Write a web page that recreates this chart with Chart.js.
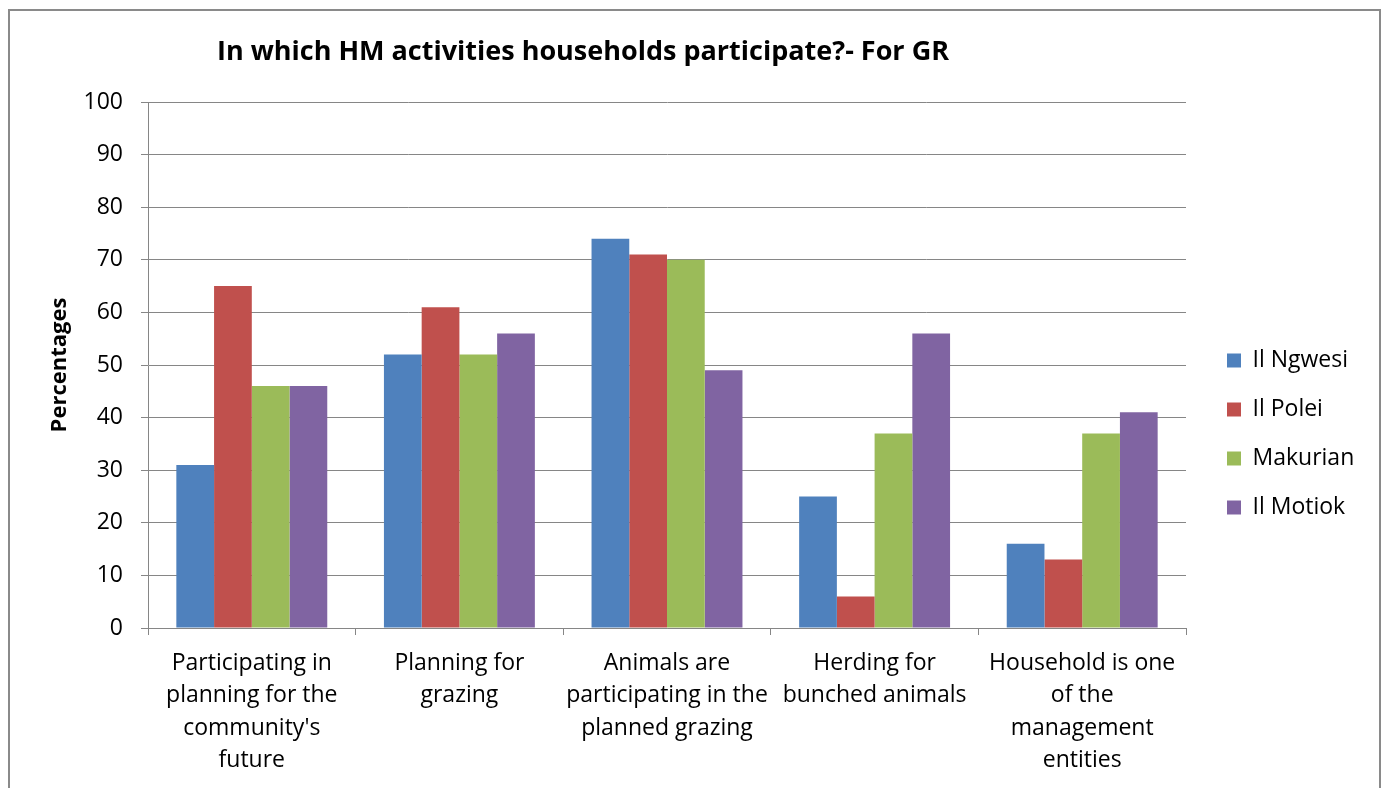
<!DOCTYPE html>
<html><head><meta charset="utf-8">
<script src="https://cdn.jsdelivr.net/npm/chart.js@4.4.0/dist/chart.umd.min.js"></script>
<style>
html,body{margin:0;padding:0;background:#fff;width:1387px;height:788px;overflow:hidden}
#frame{position:absolute;left:8px;top:9px;width:1373px;height:820px;border:2px solid #8a8a8a;box-sizing:border-box}
#wrap{position:absolute;left:0;top:0;width:1387px;height:788px}
</style></head><body>
<div id="frame"></div>
<div id="wrap"><canvas id="c" width="1387" height="788"></canvas></div>
<script>
const chartTitle = "In which HM activities households participate?- For GR";
const yAxisTitle = "Percentages";
const categories = [
  ["Participating in", "planning for the", "community's", "future"],
  ["Planning for", "grazing"],
  ["Animals are", "participating in the", "planned grazing"],
  ["Herding for", "bunched animals"],
  ["Household is one", "of the", "management", "entities"]
];
const seriesNames = ["Il Ngwesi", "Il Polei", "Makurian", "Il Motiok"];
const ilNgwesi = [31, 52, 74, 25, 16];
const ilPolei = [65, 61, 71, 6, 13];
const makurian = [46, 52, 70, 37, 37];
const ilMotiok = [46, 56, 49, 56, 41];
const seriesColors = ["#4F81BD", "#C0504D", "#9BBB59", "#8064A2"];
const yMin = 0, yMax = 100, yStep = 10;

const FONT = "'Open Sans', sans-serif";
const GRID = "#868686";

const nudge = {
  id: 'nudge',
  afterLayout(chart) {
    const ca = chart.chartArea;
    const lg = chart.legend;
    if (lg) {
      const left = ca.right + 15, w = 200;
      lg.left = left; lg.right = left + w; lg.width = w;
      const top = 323, h = 300;
      lg.top = top; lg.bottom = top + h; lg.height = h;
    }
    const t = chart.titleBlock;
    if (t) {
      const cx = 583, w = 1000;
      t.left = cx - w / 2; t.right = cx + w / 2; t.width = w;
    }
  }
};

new Chart(document.getElementById('c'), {
  type: 'bar',
  data: {
    labels: categories,
    datasets: [ilNgwesi, ilPolei, makurian, ilMotiok].map((d, i) => ({
      label: seriesNames[i],
      data: d,
      backgroundColor: seriesColors[i],
      borderWidth: 0,
      categoryPercentage: 0.727,
      barPercentage: 1.0
    }))
  },
  options: {
    responsive: false,
    animation: false,
    layout: { padding: { left: 0, top: 0, bottom: 0, right: 81 } },
    plugins: {
      title: {
        display: true,
        text: chartTitle,
        color: '#000',
        font: { family: FONT, size: 27, weight: 'bold', lineHeight: 1.2 },
        padding: { top: 35.8, bottom: 33.8 }
      },
      legend: {
        display: true,
        position: 'right',
        align: 'start',
        maxWidth: 120,
        labels: {
          color: '#000',
          font: { family: FONT, size: 23 },
          boxWidth: 14,
          boxHeight: 14,
          padding: 26
        }
      },
      tooltip: { enabled: false }
    },
    scales: {
      x: {
        grid: { display: true, drawOnChartArea: false, drawTicks: true, tickLength: 7, color: GRID, offset: true },
        border: { display: true, color: GRID, width: 1 },
        ticks: {
          color: '#000', autoSkip: false, maxRotation: 0, minRotation: 0, padding: 12,
          font: { family: FONT, size: 23, lineHeight: 1.41 }
        },
        afterFit(s) { s.height = 160; }
      },
      y: {
        min: yMin, max: yMax,
        grid: { color: GRID, tickLength: 7, drawTicks: true },
        border: { display: true, color: GRID, width: 1 },
        ticks: { stepSize: yStep, color: '#000', padding: 18, font: { family: FONT, size: 23 } },
        title: {
          display: true, text: yAxisTitle, color: '#000',
          font: { family: FONT, size: 22, weight: 'bold', lineHeight: 1.2 },
          padding: { top: 47, bottom: 0 }
        },
        afterFit(s) { s.width = 148; }
      }
    }
  },
  plugins: [nudge]
});
</script>
</body></html>
